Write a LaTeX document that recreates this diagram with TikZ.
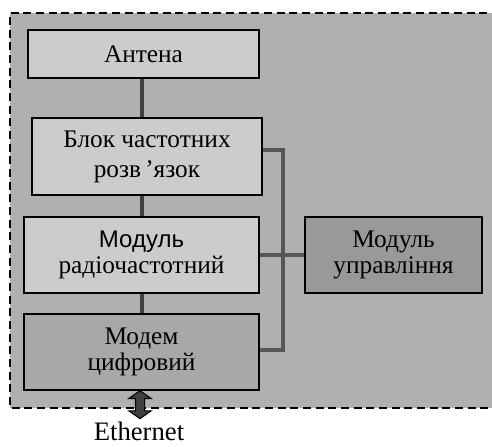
\documentclass[tikz,border=0pt]{standalone}
\usepackage{fontspec}
\setmainfont{Liberation Serif}
\newfontfamily\arialfont{Liberation Sans}
\usetikzlibrary{positioning,shapes.arrows}

\begin{document}
\begin{tikzpicture}[x=0.75pt,y=-0.75pt]
    % Style definitions
    \tikzset{unit/.style={rectangle, draw=black, line width=1.5pt, align=center,
             font=\fontsize{19}{19}\selectfont, inner sep=0pt}}
    \tikzset{light/.style={unit, fill=gray!40}}
    \tikzset{dark/.style={unit, fill=gray!80}}
    \tikzstyle{link} = [line width=3.4pt, draw=black!75]
    \tikzstyle{bus} = [line width=2.4pt, draw=black!66]

    \useasboundingbox (0,0) rectangle (492,446);

    % Dashed frame
    \fill[gray!62] (10,13) rectangle (500,408);
    \draw[line width=1.6pt, dash pattern=on 6pt off 3.5pt] (500,13) -- (10,13) -- (10,408) -- (500,408);

    % Main blocks
    \node (ant) [light, minimum width=231*0.75pt, minimum height=48*0.75pt] at (143.5,54) {Антена};
    \node (blk) [light, minimum width=230*0.75pt, minimum height=77*0.75pt,
                 font=\fontsize{19}{22.5}\selectfont] at (147,156.5) {Блок частотних\\розв\,’язок};
    \node (rf) [light, minimum width=235*0.75pt, minimum height=76*0.75pt] at (141.5,255)
               {{\arialfont\fontsize{18}{18}\selectfont Модуль}\\радіочастотний};
    \node (modem) [dark, fill=gray!68, minimum width=235*0.75pt, minimum height=76*0.75pt] at (141.5,352) {Модем\\цифровий};
    \node (ctrl) [dark, minimum width=177*0.75pt, minimum height=76*0.75pt] at (393.5,255) {Модуль\\управління};

    % Ethernet port
    \node (port) [double arrow, shape border rotate=90, draw=black, fill=black!75, line width=0.8pt,
                  minimum height=28*0.75pt, double arrow head extend=5pt, double arrow tip angle=110,
                  inner sep=3pt, anchor=north] at (140,390) {};
    \node (eth) [font=\fontsize{20}{20}\selectfont, anchor=base, inner sep=0pt] at (139,440) {Ethernet};

    % Chain between blocks
    \coordinate (axis) at (142,0);
    \draw [link] (ant.south -| axis) -- (blk.north -| axis);
    \draw [link] (blk.south -| axis) -- (rf.north -| axis);
    \draw [link] (rf.south -| axis) -- (modem.north -| axis);

    % Control bus
    \coordinate (top) at (283,150);
    \coordinate (bot) at (283,350);
    \draw [bus] (blk.east |- top) -- (top) -- (bot) -- (modem.east |- bot);
    \draw [bus] (rf.east) -- (ctrl.west);
\end{tikzpicture}
\end{document}
